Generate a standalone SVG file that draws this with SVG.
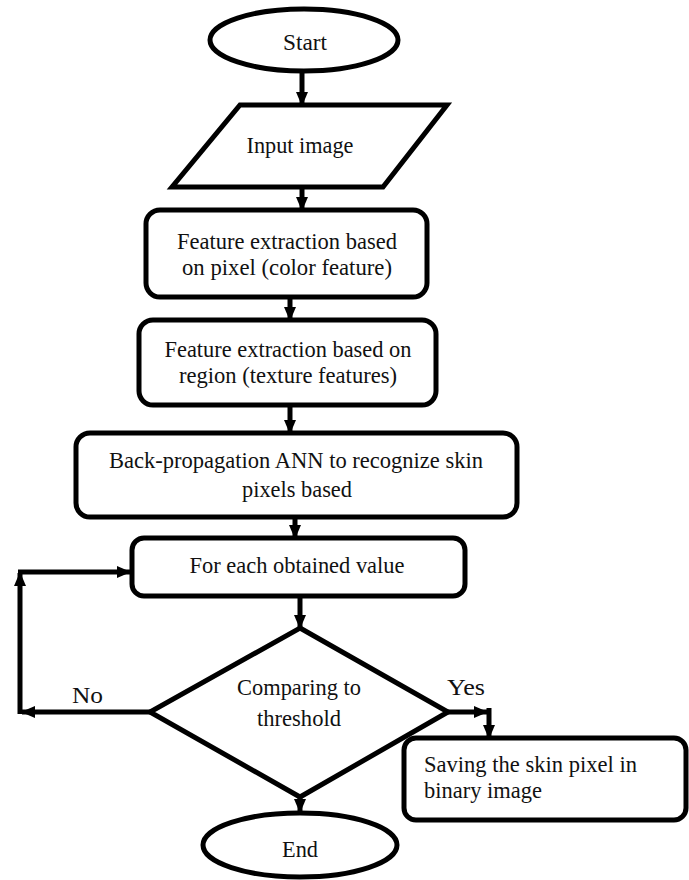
<svg xmlns="http://www.w3.org/2000/svg" width="689" height="880" viewBox="0 0 689 880">
<style>
.s{fill:#fff;stroke:#000;stroke-width:5}
.m{text-anchor:middle}
.c{fill:none;stroke:#000;stroke-width:5}
</style>
<defs>
<marker id="ah" viewBox="0 0 14 12" refX="13" refY="6" markerWidth="14" markerHeight="12" markerUnits="userSpaceOnUse" orient="auto"><path d="M0,0 L14,6 L0,12 z" fill="#000"/></marker>
</defs>
<rect width="689" height="880" fill="#fff"/>
<g font-family="Liberation Serif, DejaVu Serif, serif" font-size="24" fill="#111">
<g id="start"><ellipse class="s" cx="304" cy="40" rx="94" ry="31"/><text class="m" x="305" y="50" textLength="44" lengthAdjust="spacingAndGlyphs">Start</text></g>
<g id="input"><polygon class="s" points="240,105 447,105 383,187 172,187"/><text class="m" x="300" y="153" textLength="107" lengthAdjust="spacingAndGlyphs">Input image</text></g>
<g id="feat1"><rect class="s" x="146" y="210" width="281" height="87" rx="14"/><text class="m" x="287" y="249" textLength="220" lengthAdjust="spacingAndGlyphs">Feature extraction based</text><text class="m" x="287" y="275" textLength="210" lengthAdjust="spacingAndGlyphs">on pixel (color feature)</text></g>
<g id="feat2"><rect class="s" x="139" y="320" width="297" height="85" rx="14"/><text class="m" x="288" y="357" textLength="247" lengthAdjust="spacingAndGlyphs">Feature extraction based on</text><text class="m" x="288" y="383" textLength="218" lengthAdjust="spacingAndGlyphs">region (texture features)</text></g>
<g id="ann"><rect class="s" x="76" y="433" width="441" height="84" rx="14"/><text class="m" x="296" y="468" textLength="374" lengthAdjust="spacingAndGlyphs">Back-propagation ANN to recognize skin</text><text class="m" x="297" y="497" textLength="110" lengthAdjust="spacingAndGlyphs">pixels based</text></g>
<g id="foreach"><rect class="s" x="132" y="538" width="333" height="58" rx="12"/><text class="m" x="297" y="573" textLength="215" lengthAdjust="spacingAndGlyphs">For each obtained value</text></g>
<g id="save"><rect class="s" x="404" y="738" width="282" height="82" rx="12"/><text x="424" y="772" textLength="213" lengthAdjust="spacingAndGlyphs">Saving the skin pixel in</text><text x="424" y="798" textLength="118" lengthAdjust="spacingAndGlyphs">binary image</text></g>
<g id="compare"><polygon class="s" points="300,628 448,712 300,797 150,712" style="fill:none"/><text class="m" x="299" y="695" textLength="124" lengthAdjust="spacingAndGlyphs">Comparing to</text><text class="m" x="299" y="726" textLength="84" lengthAdjust="spacingAndGlyphs">threshold</text></g>
<g id="end"><ellipse class="s" cx="300" cy="845" rx="97" ry="32"/><text class="m" x="300" y="857" textLength="36" lengthAdjust="spacingAndGlyphs">End</text></g>
<g id="connectors">
<path class="c" d="M302,72 V105" marker-end="url(#ah)"/>
<path class="c" d="M302,187 V210" marker-end="url(#ah)"/>
<path class="c" d="M290,297 V320" marker-end="url(#ah)"/>
<path class="c" d="M290,405 V433" marker-end="url(#ah)"/>
<path class="c" d="M295,517 V538" marker-end="url(#ah)"/>
<path class="c" d="M300,596 V628" marker-end="url(#ah)"/>
<path class="c" d="M150,712 H22" marker-end="url(#ah)"/>
<path class="c" d="M20,714 V573" marker-end="url(#ah)"/>
<path class="c" d="M18,572 H130" marker-end="url(#ah)"/>
<path class="c" d="M448,712 H487" marker-end="url(#ah)"/>
<path class="c" d="M489,708 V738" marker-end="url(#ah)"/>
<path class="c" d="M300,797 V812" marker-end="url(#ah)"/>
<text x="72" y="703" textLength="31" lengthAdjust="spacingAndGlyphs">No</text>
<text x="447" y="695" textLength="38" lengthAdjust="spacingAndGlyphs">Yes</text>
</g>
</g>
</svg>
